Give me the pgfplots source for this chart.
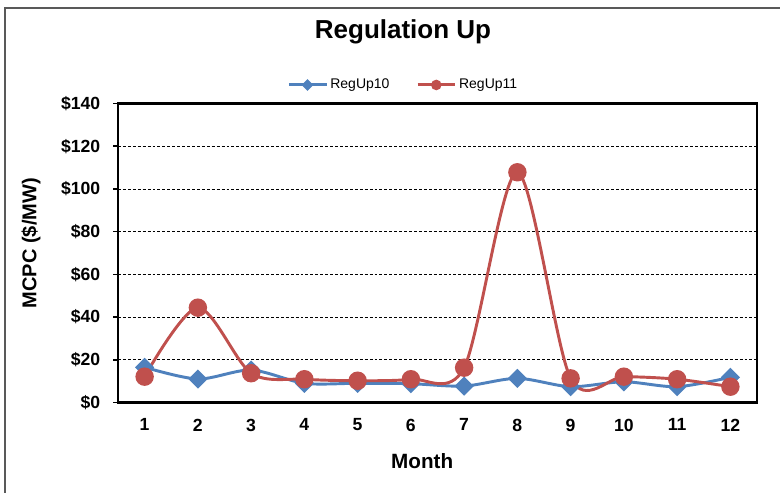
\documentclass[border=0pt]{standalone}
\usepackage{pgfplots}
\pgfplotsset{compat=1.18}
\usepackage{fontspec}
\setmainfont{Liberation Sans}
\definecolor{xlblue}{HTML}{4F81BD}
\definecolor{xlred}{HTML}{C0504D}
\begin{document}
\begin{tikzpicture}
\useasboundingbox (0,0) rectangle (585pt,369pt);
\draw[line width=1.2pt, black!65] (3.75pt,-5pt) -- (3.75pt,363pt) -- (590pt,363pt);
\begin{axis}[
  at={(88.5pt,67.125pt)}, anchor=south west,
  scale only axis, width=479.25pt, height=224.25pt,
  xmin=0.5, xmax=12.5, ymin=0, ymax=140,
  axis line style={line width=1.6pt, black},
  xtick={1,...,12},
  xticklabels={1,2,3,4,5,6,7,8,9,10,11,12},
  minor xtick={0.5,1.5,...,12.5},
  ytick={0,20,...,140},
  yticklabels={\$0,\$20,\$40,\$60,\$80,\$100,\$120,\$140},
  tick align=outside,
  major tick length=3.75pt, minor tick length=3.75pt,
  xtick style={draw=none},
  minor tick style={line width=1.2pt, black, draw=black},
  ytick style={line width=1.2pt, black},
  xtick pos=bottom, ytick pos=left,
  ymajorgrids,
  major grid style={black, line width=0.6pt, dash pattern=on 2.2pt off 1.5pt},
  ticklabel style={font=\bfseries\fontsize{13.2}{15}\selectfont},
  yticklabel style={xshift=-6pt},
  xticklabel style={yshift=-5pt},
  title={Regulation Up},
  title style={at={(0.446,1.212)}, anchor=center, font=\bfseries\fontsize{19.5}{22}\selectfont},
  xlabel={Month},
  xlabel style={at={(axis description cs:0.476,-0.196)}, anchor=center, font=\bfseries\fontsize{15.5}{18}\selectfont},
  ylabel={MCPC (\$/MW)},
  ylabel style={at={(axis description cs:-0.136,0.533)}, anchor=center, font=\bfseries\fontsize{15}{18}\selectfont},
  legend columns=2,
  legend style={at={(axis description cs:0.447,1.062)}, anchor=center, draw=none, fill=none,
    font=\fontsize{10.5}{12}\selectfont,
    /tikz/every even column/.append style={column sep=18pt}},
  legend image code/.code={\draw[mark repeat=2,mark phase=2,#1] plot coordinates {(0pt,0pt) (14pt,0pt) (28pt,0pt)};},
]
\addplot[xlblue, line width=2.2pt, smooth, mark=square*, mark size=4pt,
  mark options={rotate=45, fill=xlblue, draw=xlblue, solid},
  legend image post style={mark size=2pt}]
  coordinates {(1,16.5) (2,11.0) (3,15.2) (4,9.0) (5,9.0) (6,8.8) (7,7.7) (8,11.3) (9,7.4) (10,9.7) (11,7.4) (12,11.8)};
\addlegendentry{RegUp10}
\addplot[xlred, line width=2.2pt, smooth, mark=*, mark size=5.8pt,
  mark options={fill=xlred, draw=xlred, solid},
  legend image post style={mark size=2.8pt}]
  coordinates {(1,12.1) (2,44.4) (3,13.7) (4,10.9) (5,10.2) (6,10.9) (7,16.3) (8,107.8) (9,11.3) (10,12.1) (11,10.9) (12,7.4)};
\addlegendentry{RegUp11}
\end{axis}
\end{tikzpicture}
\end{document}
